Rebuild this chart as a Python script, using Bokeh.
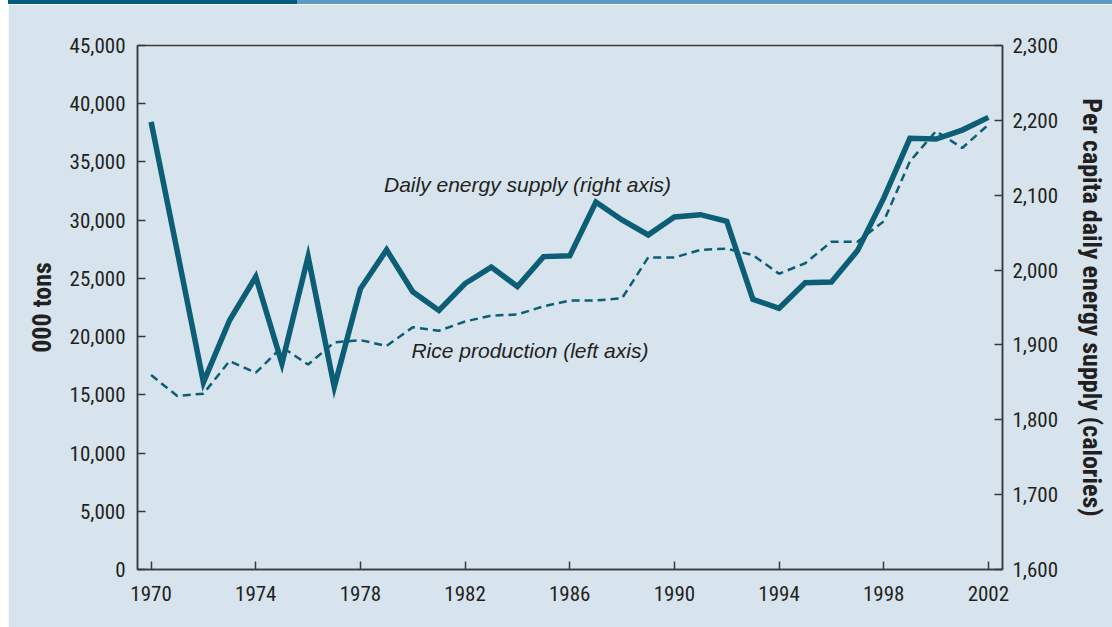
from bokeh.plotting import figure
from bokeh.models import (Range1d, LinearAxis, FixedTicker, NumeralTickFormatter,
                          Label, Div, Spacer)
from bokeh.layouts import column, row
from bokeh.embed import file_html
from bokeh.resources import INLINE

years = list(range(1970, 2003))

energy_supply = [2198, 2025, 1850, 1933, 1991, 1875, 2018, 1844, 1975, 2027,
                 1971, 1946, 1982, 2004, 1978, 2018, 2019, 2091, 2067, 2047,
                 2071, 2074, 2065, 1961, 1949, 1983, 1984, 2026, 2096, 2176,
                 2175, 2187, 2204]

rice_production = [16700, 14900, 15100, 17900, 16900, 19100, 17600, 19500, 19700, 19200,
                   20800, 20500, 21300, 21800, 21900, 22600, 23100, 23100, 23300, 26800,
                   26800, 27450, 27550, 27000, 25400, 26300, 28150, 28150, 29900, 35050,
                   37650, 36200, 38200]

left_ticks = [0, 5000, 10000, 15000, 20000, 25000, 30000, 35000, 40000, 45000]
right_ticks = [1600, 1700, 1800, 1900, 2000, 2100, 2200, 2300]
x_ticks = [1970, 1974, 1978, 1982, 1986, 1990, 1994, 1998, 2002]

BG = "#d7e4ed"
LINE = "#0b5e75"
AX = "#3a3a3a"
TXT = "#231f20"
FONT = "Roboto Condensed"

p = figure(width=1104, height=623, output_backend="svg", toolbar_location=None,
           x_range=Range1d(1969.48, 2002.54), y_range=Range1d(0, 45000),
           min_border_left=129, min_border_right=110, min_border_top=41,
           min_border_bottom=58)
p.background_fill_color = BG
p.border_fill_color = BG
p.outline_line_color = AX
p.outline_line_width = 1.5
p.grid.visible = False

p.extra_y_ranges = {"cal": Range1d(1600, 2300)}
right = LinearAxis(y_range_name="cal")
p.add_layout(right, "right")

for ax in [p.xaxis[0], p.yaxis[0], right]:
    ax.axis_line_color = AX
    ax.axis_line_width = 1.5
    ax.major_tick_line_color = AX
    ax.major_tick_line_width = 1.5
    ax.major_tick_in = 8
    ax.major_tick_out = 0
    ax.minor_tick_line_color = None
    ax.major_label_text_font = FONT
    ax.major_label_text_font_size = "21px"
    ax.major_label_text_color = TXT
    ax.axis_label_text_font = FONT
    ax.axis_label_text_font_style = "bold"
    ax.axis_label_text_font_size = "26px"
    ax.axis_label_text_color = TXT

p.xaxis[0].ticker = FixedTicker(ticks=x_ticks)
p.xaxis[0].major_label_standoff = 16
p.yaxis[0].ticker = FixedTicker(ticks=left_ticks)
p.yaxis[0].formatter = NumeralTickFormatter(format="0,0")
p.yaxis[0].major_label_standoff = 12
p.yaxis[0].axis_label = "000 tons"
p.yaxis[0].axis_label_standoff = 10
right.ticker = FixedTicker(ticks=right_ticks)
right.formatter = NumeralTickFormatter(format="0,0")
right.major_label_standoff = 10
right.axis_label = "Per capita daily energy supply (calories)"
right.axis_label_standoff = 16

p.line(years, rice_production, line_color=LINE, line_width=2.5, line_dash="8 5")
p.line(years, energy_supply, line_color=LINE, line_width=5.5, y_range_name="cal",
       line_join="miter")

p.add_layout(Label(x=1978.9, y=33050, text="Daily energy supply (right axis)",
                   text_font="Liberation Sans", text_font_style="italic",
                   text_font_size="21px", text_color=TXT, text_baseline="middle"))
p.add_layout(Label(x=1979.95, y=18850, text="Rice production (left axis)",
                   text_font="Liberation Sans", text_font_style="italic",
                   text_font_size="21px", text_color=TXT, text_baseline="middle"))

bar = Div(text="", width=1104, height=4,
          styles={"background": "linear-gradient(to right, #005b82 0px, #005b82 289px, #5c9cc3 289px, #5c9cc3 100%)",
                  "margin": "0"})

layout = row(Spacer(width=8, height=627), column(bar, p, spacing=0), spacing=0)

open("out.html", "w").write(file_html(layout, INLINE))
